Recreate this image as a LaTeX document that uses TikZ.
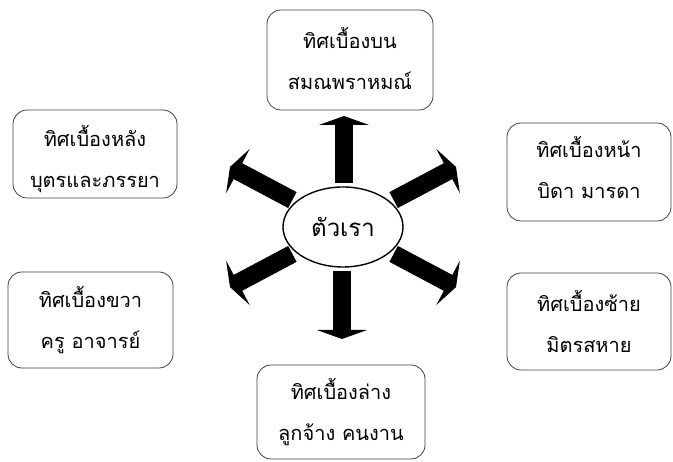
\documentclass[tikz,border=0pt]{standalone}
\usepackage{fontspec}
\newfontfamily\thaifont[Script=Thai]{Loma}
\usetikzlibrary{arrows.meta,shapes.geometric}
\tikzset{
  box/.style={draw=black!75, line width=0.8pt, rounded corners=14pt, fill=white},
  txt/.style={font=\thaifont\fontsize{20}{41}\selectfont, align=center, inner sep=0pt},
  me/.style={ellipse, draw=black, line width=1.4pt, fill=white, minimum width=120pt, minimum height=80pt, outer sep=4pt, font=\thaifont\fontsize{24}{28}\selectfont},
  bigarrow/.style={line width=18pt, -{Triangle[width=50pt,length=9pt]}}
}
\begin{document}
\begin{tikzpicture}[x=1pt,y=1pt]
\useasboundingbox (0,0) rectangle (673,462);
% boxes
\node[box, minimum width=166pt, minimum height=100pt] (top) at (350,402) {};
\node[box, minimum width=164pt, minimum height=88pt] (lt) at (95,308) {};
\node[box, minimum width=164pt, minimum height=98pt] (rt) at (589,290) {};
\node[box, minimum width=164pt, minimum height=97pt] (rb) at (589,140.5) {};
\node[box, minimum width=165pt, minimum height=96pt] (lb) at (90.5,142) {};
\node[box, minimum width=168pt, minimum height=94pt] (bot) at (341,50) {};
% texts
\node[txt] (ttop) at ([yshift=2pt]top.center) {ทิศเบื้องบน\\สมณพราหมณ์};
\node[txt] (tlt) at ([yshift=-5pt]lt.center) {ทิศเบื้องหลัง\\บุตรและภรรยา};
\node[txt] (trt) at ([yshift=5pt]rt.center) {ทิศเบื้องหน้า\\บิดา มารดา};
\node[txt] (trb) at (rb.center) {ทิศเบื้องซ้าย\\มิตรสหาย};
\node[txt] (tlb) at (lb.center) {ทิศเบื้องขวา\\ครู อาจารย์};
\node[txt] (tbot) at (bot.center) {ทิศเบื้องล่าง\\ลูกจ้าง คนงาน};
% centre
\node[me] (me) at (343,235) {ตัวเรา};
% arrow tips
\coordinate (up) at (344,346);
\coordinate (dn) at (342,123);
\coordinate (ul) at ([shift={(152:128)}]me.center);
\coordinate (ur) at ([shift={(28:128)}]me.center);
\coordinate (dl) at ([shift={(208:128)}]me.center);
\coordinate (dr) at ([shift={(332:128)}]me.center);
\draw[bigarrow] (me.north -| up) -- (up);
\draw[bigarrow] (me.south -| dn) -- (dn);
\draw[bigarrow] (me.152) -- (ul);
\draw[bigarrow] (me.28) -- (ur);
\draw[bigarrow] (me.208) -- (dl);
\draw[bigarrow] (me.332) -- (dr);
\end{tikzpicture}
\end{document}
